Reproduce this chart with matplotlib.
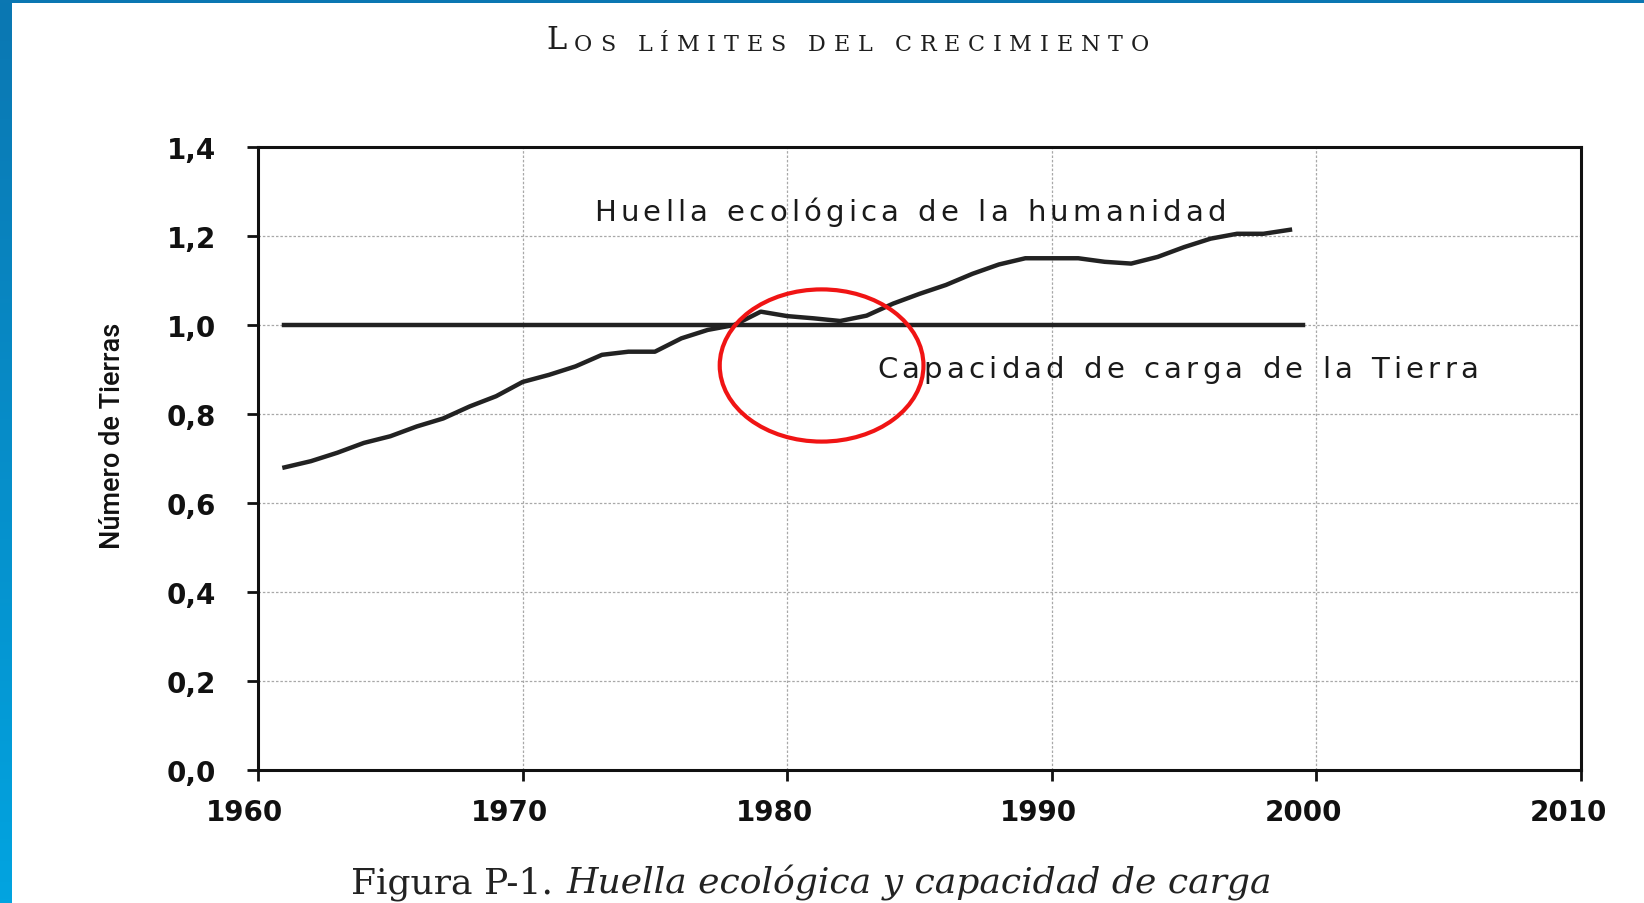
import numpy as np
import matplotlib.pyplot as plt
import matplotlib.transforms as mtransforms
from matplotlib.patches import Ellipse, Rectangle
from matplotlib.colors import LinearSegmentedColormap

# datos
years = list(range(1961, 2000))
huella = [0.68, 0.694, 0.713, 0.735, 0.75, 0.772, 0.79, 0.817, 0.84, 0.872,
          0.888, 0.907, 0.933, 0.94, 0.94, 0.97, 0.989, 1.0, 1.03, 1.02,
          1.015, 1.009, 1.021, 1.048, 1.07, 1.09, 1.115, 1.136, 1.15, 1.15,
          1.15, 1.142, 1.138, 1.153, 1.175, 1.194, 1.205, 1.205, 1.214]
cap_years = [1961, 1999.5]
capacidad = [1.0, 1.0]

xticks = [1960, 1970, 1980, 1990, 2000, 2010]
yticks = [0.0, 0.2, 0.4, 0.6, 0.8, 1.0, 1.2, 1.4]
ytick_labels = ['0,0', '0,2', '0,4', '0,6', '0,8', '1,0', '1,2', '1,4']

W, H = 1644, 904
fig = plt.figure(figsize=(W / 100, H / 100), dpi=100)
fig.patch.set_facecolor('white')

ax = fig.add_axes([258 / W, 1 - 771 / H, (1581 - 258) / W, (771 - 148) / H])
ax.plot(years, huella, color='#222222', lw=3.2, solid_joinstyle='round')
ax.plot(cap_years, capacidad, color='#222222', lw=3.2)

ax.set_xlim(1960, 2010)
ax.set_ylim(0, 1.4)
ax.set_xticks(xticks)
ax.set_yticks(yticks)
ax.set_yticklabels(ytick_labels)
ax.grid(True, color='#a8a8a8', lw=0.9, ls=(0, (2, 1.5)))
ax.set_axisbelow(True)
for s in ax.spines.values():
    s.set_linewidth(2.2)
    s.set_color('#111111')
ax.tick_params(axis='both', direction='out', length=8, width=2.0, color='#111111',
               labelsize=20, labelcolor='#111111')
ax.tick_params(axis='y', pad=22)
ax.tick_params(axis='x', pad=12)
shift = mtransforms.ScaledTranslation(-0.13, 0, fig.dpi_scale_trans)
for lab in ax.get_xticklabels():
    lab.set_transform(lab.get_transform() + shift)
for lab in ax.get_xticklabels() + ax.get_yticklabels():
    lab.set_fontweight('bold')
    lab.set_family('DejaVu Sans')


# texto con espaciado entre letras (encadenado letra a letra)
def tracked(first_artist_fn, words, sizes, tracking, word_gap, **kw):
    prev = None
    for w, (first, rest) in zip(words, sizes):
        for i, ch in enumerate(w):
            size = first if i == 0 else rest
            if prev is None:
                prev = first_artist_fn(ch, size)
                continue
            off = word_gap if i == 0 else tracking
            prev = ax.annotate(ch, xy=(1, 0), xycoords=prev, xytext=(off, 0),
                               textcoords='offset points', va='bottom', ha='left',
                               fontsize=size, annotation_clip=False, **kw)


def data_start(x, y, family):
    return lambda ch, size: ax.text(x, y, ch, fontsize=size, family=family,
                                    va='bottom', ha='left', color='#1a1a1a')


# textos dentro del grafico
huella_words = 'Huella ecológica de la humanidad'.split()
tracked(data_start(1972.7, 1.222, 'DejaVu Sans'), huella_words,
        [(21, 21)] * len(huella_words), tracking=3, word_gap=14,
        family='DejaVu Sans', color='#1a1a1a')
cap_words = 'Capacidad de carga de la Tierra'.split()
tracked(data_start(1983.4, 0.869, 'DejaVu Sans'), cap_words,
        [(21, 21)] * len(cap_words), tracking=3, word_gap=14,
        family='DejaVu Sans', color='#1a1a1a')

# circulo rojo
ax.add_patch(Ellipse((1981.3, 0.909), 7.7, 0.342, fill=False,
                     edgecolor='#f01414', lw=3.0, zorder=5))

# etiqueta eje y
fig.text(112 / W, 1 - 436 / H, 'Número de Tierras', rotation=90, ha='center',
         va='center', fontsize=19.5, fontweight='medium', color='#111111',
         family=['Roboto', 'DejaVu Sans'])

# titulo en versalitas
title_words = ['LOS', 'LÍMITES', 'DEL', 'CRECIMIENTO']
title_sizes = [(22, 16), (16, 16), (16, 16), (16, 16)]
tracked(lambda ch, size: fig.text(546 / W, 1 - 56 / H, ch, fontsize=size,
                                  family='DejaVu Serif', va='bottom',
                                  color='#1e1e1e'),
        title_words, title_sizes, tracking=5.6, word_gap=16,
        family='DejaVu Serif', color='#1e1e1e')

# pie de figura
cap1 = fig.text(351 / W, 1 - 901 / H, 'Figura P-1.', fontsize=26,
                family='DejaVu Serif', va='bottom', color='#222222')
ax.annotate('Huella ecológica y capacidad de carga', xy=(1, 0), xycoords=cap1,
            xytext=(10, 0), textcoords='offset points', va='bottom', ha='left',
            fontsize=26, family='DejaVu Serif', style='italic',
            color='#222222', annotation_clip=False)

# barras azules del borde
bar = fig.add_axes([0, 0, 11 / W, 1])
grad = np.linspace(0, 1, 256).reshape(-1, 1)
bar.imshow(grad, aspect='auto',
           cmap=LinearSegmentedColormap.from_list('azul', ['#0b77b2', '#02a4e0']))
bar.axis('off')
fig.add_artist(Rectangle((0, 1 - 4 / H), 1, 4 / H, transform=fig.transFigure,
                         color='#0b77b2', lw=0))

fig.savefig('out.png', dpi=100)
